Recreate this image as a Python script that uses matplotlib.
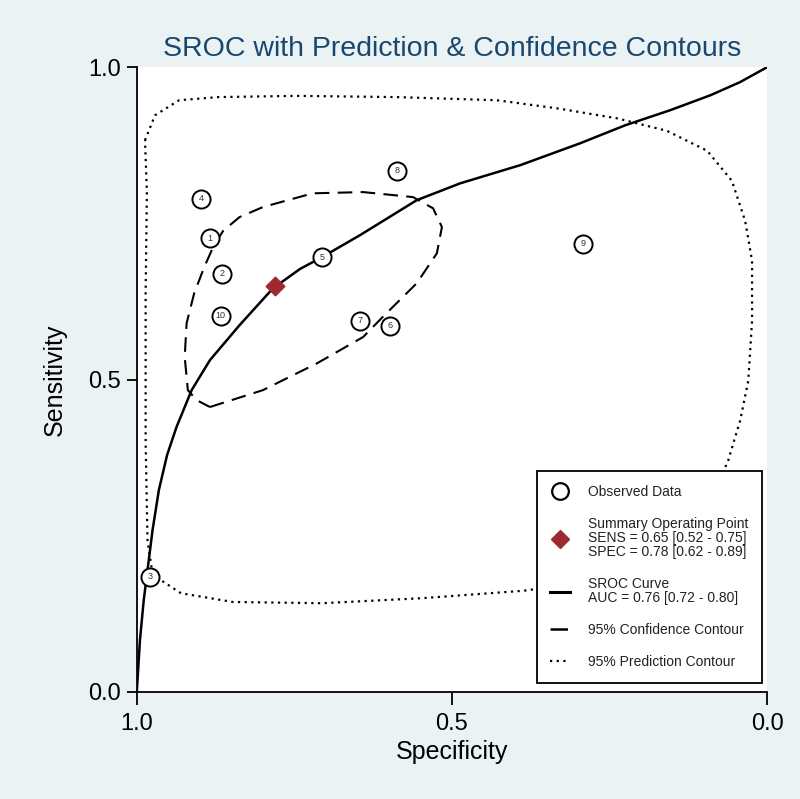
import numpy as np
import matplotlib.pyplot as plt
from matplotlib.lines import Line2D

plt.rcParams['font.family'] = ['Liberation Sans', 'DejaVu Sans']

# observed studies (specificity, sensitivity)
study_ids = ['1', '2', '3', '4', '5', '6', '7', '8', '9', '10']
study_spec = [0.884, 0.865, 0.979, 0.898, 0.706, 0.598, 0.646, 0.587, 0.292, 0.867]
study_sens = [0.726, 0.669, 0.184, 0.789, 0.696, 0.586, 0.594, 0.834, 0.717, 0.602]

# summary operating point
summ_spec = 0.78
summ_sens = 0.65

# SROC curve
sroc_spec = [1.000, 0.995, 0.989, 0.983, 0.975, 0.965, 0.952, 0.937, 0.913,
             0.884, 0.837, 0.784, 0.741, 0.706, 0.646, 0.556, 0.487, 0.392,
             0.297, 0.225, 0.154, 0.090, 0.043, 0.000]
sroc_sens = [0.000, 0.083, 0.147, 0.195, 0.259, 0.323, 0.379, 0.424, 0.483,
             0.531, 0.587, 0.646, 0.677, 0.696, 0.731, 0.787, 0.814, 0.843,
             0.878, 0.907, 0.931, 0.955, 0.976, 1.000]

# 95% confidence contour
conf_spec = [0.884, 0.800, 0.714, 0.641, 0.610, 0.556, 0.524, 0.516, 0.530,
             0.562, 0.641, 0.721, 0.800, 0.837, 0.863, 0.878, 0.893, 0.909,
             0.921, 0.924, 0.919, 0.905, 0.884]
conf_sens = [0.456, 0.483, 0.526, 0.568, 0.600, 0.654, 0.702, 0.744, 0.774,
             0.792, 0.800, 0.798, 0.776, 0.760, 0.738, 0.714, 0.680, 0.638,
             0.590, 0.536, 0.483, 0.467, 0.456]

# 95% prediction contour
pred_spec = [0.987, 0.971, 0.933, 0.871, 0.746, 0.587, 0.429, 0.333, 0.238,
             0.159, 0.095, 0.056, 0.035, 0.024, 0.024, 0.030, 0.043, 0.062,
             0.090, 0.138, 0.201, 0.275, 0.386, 0.548, 0.706, 0.848, 0.930,
             0.962, 0.976, 0.983, 0.986, 0.986, 0.984, 0.987]
pred_sens = [0.883, 0.923, 0.947, 0.952, 0.954, 0.952, 0.947, 0.934, 0.918,
             0.898, 0.866, 0.818, 0.754, 0.690, 0.594, 0.498, 0.434, 0.370,
             0.306, 0.242, 0.202, 0.178, 0.162, 0.150, 0.142, 0.144, 0.158,
             0.179, 0.195, 0.243, 0.400, 0.640, 0.800, 0.883]

bg = '#EAF2F3'
navy = '#1A476F'
maroon = '#9E2A2F'

fig = plt.figure(figsize=(8, 7.99), dpi=100, facecolor=bg)
ax = fig.add_axes([0.171, 0.134, 0.788, 0.782])
ax.set_facecolor('white')

ax.plot(pred_spec, pred_sens, color='black', lw=1.6, ls=(0, (1, 2)))
ax.plot(conf_spec, conf_sens, color='black', lw=1.5, ls=(0, (7, 4)))
ax.plot(sroc_spec, sroc_sens, color='black', lw=1.8)

ax.scatter(study_spec, study_sens, s=170, facecolors='white', edgecolors='black', linewidths=1.4, zorder=4)
for i, s, t in zip(study_ids, study_spec, study_sens):
    ax.text(s, t, i, ha='center', va='center', fontsize=6.5, color='#333333', zorder=5)

ax.scatter([summ_spec], [summ_sens], marker='D', s=90, color=maroon, zorder=6)

ax.set_xlim(1.0, 0.0)
ax.set_ylim(0.0, 1.0)
ax.set_xticks([1.0, 0.5, 0.0])
ax.set_xticklabels(['1.0', '0.5', '0.0'])
ax.set_yticks([0.0, 0.5, 1.0])
ax.set_yticklabels(['0.0', '0.5', '1.0'])
ax.tick_params(labelsize=17, width=1.3, direction='out')
ax.tick_params(axis='x', length=9.5, pad=6)
ax.tick_params(axis='y', length=7.5, pad=4)
for side in ['top', 'right']:
    ax.spines[side].set_visible(False)
for side in ['left', 'bottom']:
    ax.spines[side].set_linewidth(1.3)

ax.set_xlabel('Specificity', fontsize=18, labelpad=3)
ax.set_ylabel('Sensitivity', fontsize=18, labelpad=15)
ax.set_title('SROC with Prediction & Confidence Contours', fontsize=20.5, color=navy, pad=8)

handles = [
    Line2D([], [], marker='o', ls='none', mfc='white', mec='black', mew=1.6, ms=12),
    Line2D([], [], marker='D', ls='none', color=maroon, ms=9),
    Line2D([], [], color='black', lw=2.2),
    Line2D([], [], color='black', lw=1.8, ls=(0, (7, 4))),
    Line2D([], [], color='black', lw=1.6, ls=(0, (1, 2))),
]
labels = [
    'Observed Data',
    'Summary Operating Point\nSENS = 0.65 [0.52 - 0.75]\nSPEC = 0.78 [0.62 - 0.89]',
    'SROC Curve\nAUC = 0.76 [0.72 - 0.80]',
    '95% Confidence Contour',
    '95% Prediction Contour',
]
leg = ax.legend(handles, labels, loc='lower right', bbox_to_anchor=(0.992, 0.0144),
                fontsize=10, frameon=True, fancybox=False, edgecolor='black',
                framealpha=1, handlelength=1.4, handletextpad=1.3, labelspacing=1.3,
                borderpad=1.0, borderaxespad=0)
leg.get_frame().set_linewidth(1.3)
leg.set_zorder(10)
for t in leg.get_texts():
    t.set_linespacing(1.0)
    t.set_color('#222222')

plt.savefig('out.png', facecolor=bg)
